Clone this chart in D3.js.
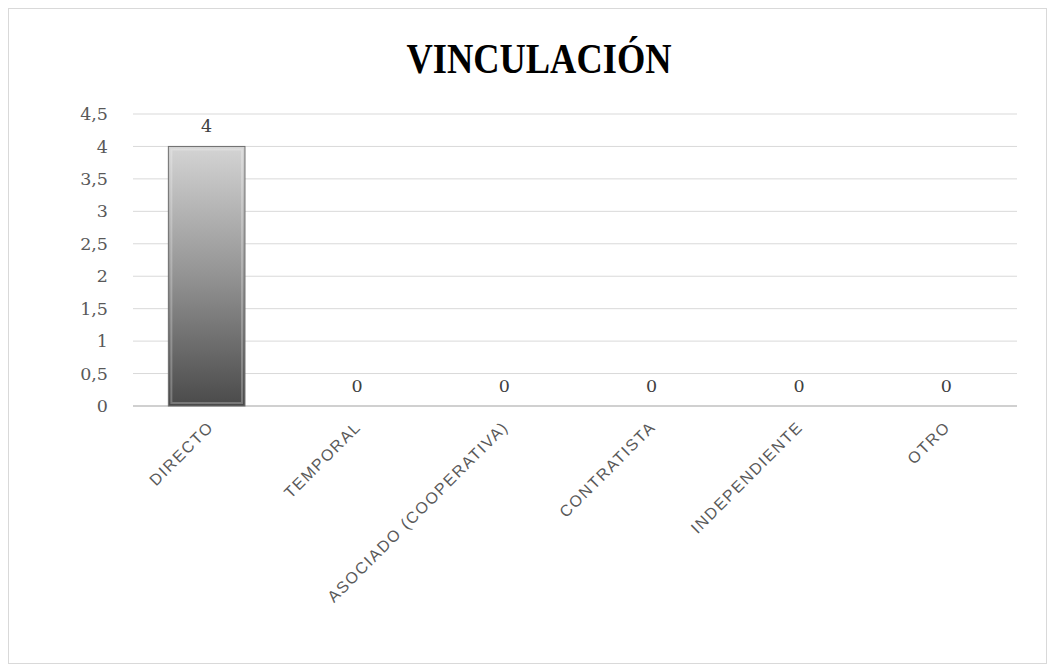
<!DOCTYPE html>
<html>
<head>
<meta charset="utf-8">
<script src="https://cdn.jsdelivr.net/npm/d3@7"></script>
<style>
  body { margin: 0; background: #fff; }
</style>
</head>
<body>
<div id="chart"></div>
<script>
// chart data
var categories = ["DIRECTO", "TEMPORAL", "ASOCIADO (COOPERATIVA)", "CONTRATISTA", "INDEPENDIENTE", "OTRO"];
var values = [4, 0, 0, 0, 0, 0];
var yTicks = [0, 0.5, 1, 1.5, 2, 2.5, 3, 3.5, 4, 4.5];

var W = 1055, H = 672;
var margin = { top: 114, right: 38, bottom: 266, left: 133 },
    width = W - margin.left - margin.right,
    height = H - margin.top - margin.bottom;

var svg = d3.select("#chart").append("svg")
    .attr("width", W)
    .attr("height", H);

// outer chart border
svg.append("rect")
    .attr("x", 8.5).attr("y", 8.5)
    .attr("width", W - 17).attr("height", H - 17)
    .attr("fill", "#fff")
    .attr("stroke", "#d9d9d9");

var defs = svg.append("defs");
var grad = defs.append("linearGradient")
    .attr("id", "barGrad")
    .attr("x1", 0).attr("y1", 0).attr("x2", 0).attr("y2", 1);
grad.append("stop").attr("offset", "0%").attr("stop-color", "#d4d4d4");
grad.append("stop").attr("offset", "50%").attr("stop-color", "#939393");
grad.append("stop").attr("offset", "100%").attr("stop-color", "#4a4a4a");

svg.append("text")
    .attr("x", 539).attr("y", 73)
    .attr("text-anchor", "middle")
    .attr("textLength", 265)
    .attr("lengthAdjust", "spacingAndGlyphs")
    .style("font-family", "'Liberation Serif', 'DejaVu Serif', serif")
    .style("font-weight", "bold")
    .style("font-size", "42px")
    .attr("fill", "#000")
    .text("VINCULACIÓN");

var g = svg.append("g")
    .attr("transform", "translate(" + margin.left + "," + margin.top + ")");

var x = d3.scaleBand().domain(categories).range([0, width]).paddingInner(0.48).paddingOuter(0.24);
var y = d3.scaleLinear().domain([0, 4.5]).range([height, 0]);

// gridlines
g.selectAll(".grid")
    .data(yTicks)
    .enter().append("line")
    .attr("x1", 0).attr("x2", width)
    .attr("y1", function(d) { return y(d); })
    .attr("y2", function(d) { return y(d); })
    .attr("stroke", function(d) { return d === 0 ? "#d0d0d0" : "#d9d9d9"; })
    .attr("stroke-width", function(d) { return d === 0 ? 2 : 1; });

// y axis labels
var fmt = function(d) { return String(d).replace(".", ","); };
var yAxis = d3.axisLeft(y).tickValues(yTicks).tickFormat(fmt).tickSize(0).tickPadding(25);
var gY = g.append("g").call(yAxis);
gY.select(".domain").remove();
gY.selectAll("text")
    .style("font-family", "'DejaVu Serif', serif")
    .style("font-size", "17.5px")
    .attr("fill", "#595959");

// bars
var bars = g.selectAll(".bar")
    .data(values)
    .enter().append("g");

bars.append("rect")
    .attr("x", function(d, i) { return x(categories[i]); })
    .attr("y", function(d) { return y(d); })
    .attr("width", x.bandwidth())
    .attr("height", function(d) { return y(0) - y(d); })
    .attr("fill", "url(#barGrad)")
    .attr("stroke", function(d) { return d > 0 ? "#6e6e6e" : "none"; })
    .attr("stroke-width", 1);

// bevel highlights
bars.filter(function(d) { return d > 0; }).append("rect")
    .attr("x", function(d, i) { return x(categories[i]) + 3; })
    .attr("y", function(d) { return y(d) + 3; })
    .attr("width", x.bandwidth() - 6)
    .attr("height", function(d) { return y(0) - y(d) - 6; })
    .attr("fill", "none")
    .attr("stroke", "#ffffff")
    .attr("stroke-opacity", 0.25)
    .attr("stroke-width", 2);

// value labels
g.selectAll(".val")
    .data(values)
    .enter().append("text")
    .attr("x", function(d, i) { return x(categories[i]) + x.bandwidth() / 2 + (d > 0 ? 0 : 3); })
    .attr("y", function(d) { return y(d) - 14; })
    .attr("text-anchor", "middle")
    .style("font-family", "'DejaVu Serif', serif")
    .style("font-size", "17.5px")
    .attr("fill", "#404040")
    .text(function(d) { return d; });

// x axis labels
var xAxis = d3.axisBottom(x).tickSize(0).tickPadding(0);
var gX = g.append("g")
    .attr("transform", "translate(0," + height + ")")
    .call(xAxis);
gX.select(".domain").remove();
gX.selectAll("text")
    .style("font-family", "'Liberation Sans', Arial, sans-serif")
    .style("font-size", "16px")
    .style("letter-spacing", "1.6px")
    .attr("fill", "#595959")
    .attr("text-anchor", "end")
    .attr("dy", 0)
    .attr("y", 0)
    .attr("transform", "translate(8,22) rotate(-45)");
</script>
</body>
</html>
